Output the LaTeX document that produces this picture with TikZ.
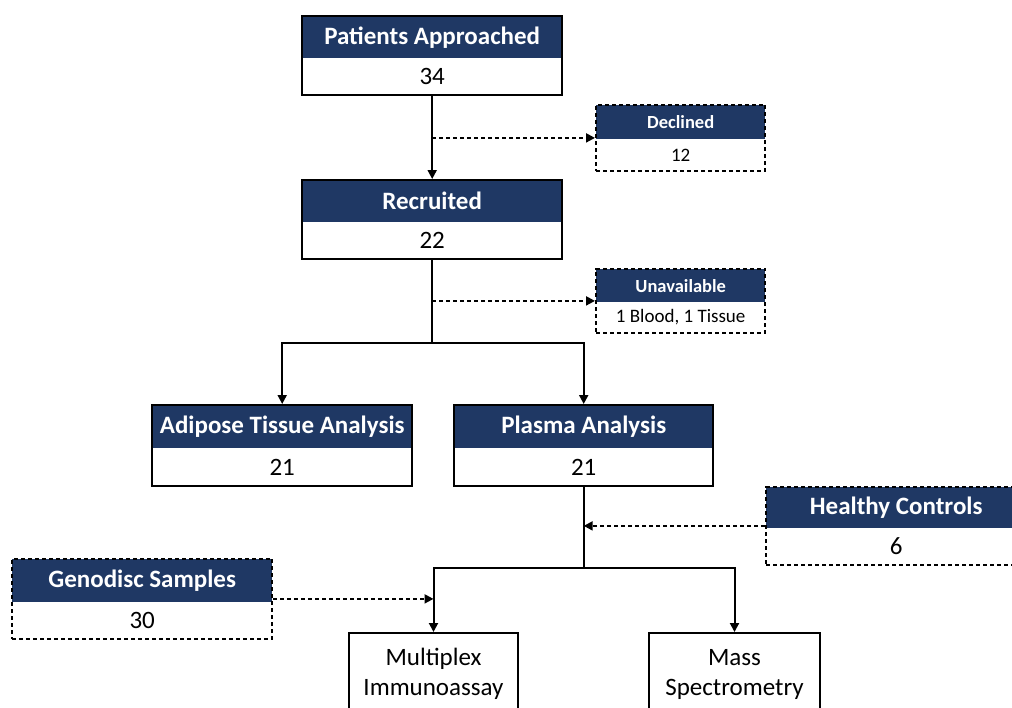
\documentclass[tikz,border=0pt]{standalone}
\usepackage{fontspec}
\setmainfont{Carlito}
\usetikzlibrary{arrows.meta,fit}
\definecolor{navy}{HTML}{1F3864}
\tikzset{
  hdr/.style={fill=navy, text=white, font=\bfseries\fontsize{25}{29}\selectfont, inner sep=0pt, minimum width=260pt, minimum height=42pt, anchor=north west},
  bdy/.style={font=\fontsize{25}{29}\selectfont, inner sep=0pt, minimum width=260pt, minimum height=36pt, anchor=north},
  shdr/.style={fill=navy, text=white, font=\bfseries\fontsize{18.5}{22}\selectfont, inner sep=0pt, minimum width=169pt, minimum height=34pt, anchor=north west},
  sbdy/.style={font=\fontsize{19}{22}\selectfont, inner sep=0pt, minimum width=169pt, minimum height=31pt, anchor=north},
  solidframe/.style={draw=black, line width=2pt, inner sep=0pt},
  dashframe/.style={draw=black, line width=2pt, inner sep=0pt, dash pattern=on 4pt off 3pt},
  plainbox/.style={draw=black, line width=2pt, inner sep=0pt, anchor=north, align=center, font=\fontsize{25}{30}\selectfont, minimum height=82pt},
  arr/.style={line width=2pt, -{Triangle[length=9pt,width=9pt]}},
  darr/.style={line width=2pt, dash pattern=on 4pt off 3pt, -{Triangle[length=9pt,width=9pt]}},
  ln/.style={line width=2pt}
}
\begin{document}
\begin{tikzpicture}[x=1pt,y=-1pt]
\useasboundingbox (0,0) rectangle (1012,707);
\clip (0,0) rectangle (1012,707);
% Patients Approached
\node[hdr] (pah) at (302,16) {Patients Approached};
\node[bdy] (pab) at (pah.south) {34};
\node[solidframe, fit=(pah)(pab)] (pa) {};
% Declined
\node[shdr] (dch) at (596,105) {Declined};
\node[sbdy, minimum height=31pt] (dcb) at (dch.south) {12};
\node[dashframe, fit=(dch)(dcb)] (dc) {};
% Recruited
\node[hdr] (rch) at (302,180) {Recruited};
\node[bdy] (rcb) at (rch.south) {22};
\node[solidframe, fit=(rch)(rcb)] (rc) {};
% Unavailable
\node[shdr, minimum height=33pt] (unh) at (596,269) {Unavailable};
\node[sbdy, minimum height=30pt] (unb) at (unh.south) {1 Blood, 1 Tissue};
\node[dashframe, fit=(unh)(unb)] (un) {};
% Adipose
\node[hdr, minimum height=43pt] (adh) at (152,405) {Adipose Tissue Analysis};
\node[bdy, minimum height=37pt] (adb) at (adh.south) {21};
\node[solidframe, fit=(adh)(adb)] (ad) {};
% Plasma
\node[hdr, minimum width=259pt, minimum height=43pt] (plh) at (454,405) {Plasma Analysis};
\node[bdy, minimum width=259pt, minimum height=37pt] (plb) at (plh.south) {21};
\node[solidframe, fit=(plh)(plb)] (pl) {};
% Healthy Controls
\node[hdr, minimum height=41pt] (hch) at (766,487) {Healthy Controls};
\node[bdy] (hcb) at (hch.south) {6};
\node[dashframe, fit=(hch)(hcb)] (hc) {};
% Genodisc
\node[hdr, minimum height=43pt] (gdh) at (12,559) {Genodisc Samples};
\node[bdy] (gdb) at (gdh.south) {30};
\node[dashframe, fit=(gdh)(gdb)] (gd) {};
% Bottom boxes
\node[plainbox, minimum width=169pt] (mx) at (433.5,632) {Multiplex\\Immunoassay};
\node[plainbox, minimum width=171pt] (ms) at (734.5,632) {Mass\\Spectrometry};
% connectors
\draw[arr] (pa.south) -- (rc.north);
\draw[darr] (pa.south |- dc.west) -- (dc.west);
\coordinate (splitA) at (rc.south |- 0,343);
\draw[ln] (rc.south) -- (splitA);
\draw[darr] (rc.south |- un.west) -- (un.west);
\draw[arr] (splitA) -| (ad.north);
\draw[arr] (splitA) -| (pl.north);
\coordinate (splitB) at (pl.south |- 0,568);
\draw[ln] (pl.south) -- (splitB);
\draw[darr] (hc.west) -- (splitB |- hc.west);
\draw[arr] (splitB) -| (mx.north);
\draw[arr] (splitB) -| (ms.north);
\draw[darr] (gd.east) -- (mx.north |- gd.east);
\end{tikzpicture}
\end{document}
